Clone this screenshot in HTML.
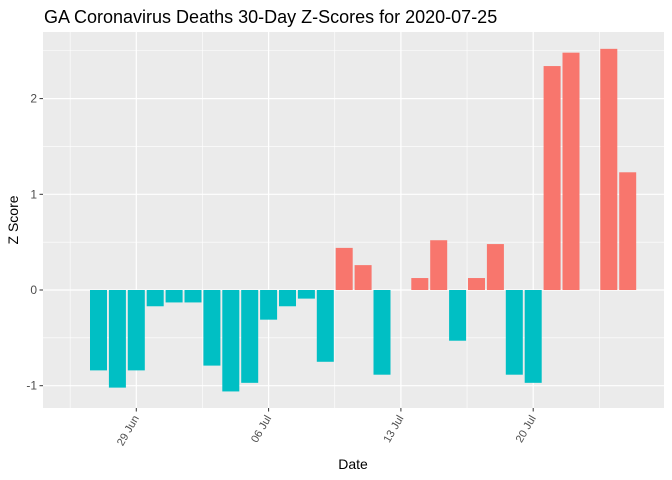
<!DOCTYPE html>
<html><head><meta charset="utf-8"><style>
body{margin:0;background:#fff}
svg{display:block;font-family:"Liberation Sans",Arial,sans-serif}
</style></head><body>
<svg id="chart" width="672" height="480">
<text x="44" y="23" font-size="18" fill="#000">GA Coronavirus Deaths 30-Day Z-Scores for 2020-07-25</text>
<rect x="43" y="32" width="621" height="376" fill="#EBEBEB"/>
<g id="grid"></g>
<g id="bars"></g>
<g id="axes"></g>
<text x="353" y="469" font-size="14" text-anchor="middle" fill="#000">Date</text>
<text transform="translate(18,220) rotate(-90)" font-size="14" text-anchor="middle" fill="#000">Z Score</text>
</svg>
<script>
const dates=["06-27","06-28","06-29","06-30","07-01","07-02","07-03","07-04","07-05","07-06","07-07","07-08","07-09","07-10","07-11","07-12","07-14","07-15","07-16","07-17","07-18","07-19","07-20","07-21","07-22","07-24","07-25"];
const zscores=[-0.84,-1.02,-0.84,-0.17,-0.13,-0.13,-0.79,-1.06,-0.97,-0.31,-0.17,-0.09,-0.75,0.44,0.26,-0.885,0.125,0.52,-0.53,0.125,0.48,-0.885,-0.97,2.34,2.48,2.52,1.23];
const yTicks=[-1,0,1,2];
const xTickDates=["06-29","07-06","07-13","07-20"];
const xTickLabels=["29 Jun","06 Jul","13 Jul","20 Jul"];
const NS="http://www.w3.org/2000/svg";
function dayIndex(s){const [m,d]=s.split("-").map(Number);return (m===6?d-30:d)-(-1);}
function X(s){return 136.3+dayIndex(s)*18.9;}
function Xd(n){return 136.3+n*18.9;}
function Y(v){return 290-v*95.7;}
function mk(tag,attrs,parent){const e=document.createElementNS(NS,tag);for(const k in attrs)e.setAttribute(k,attrs[k]);parent.appendChild(e);return e;}
const grid=document.getElementById('grid'),bars=document.getElementById('bars'),axes=document.getElementById('axes');
for(let i=0;i<yTicks.length;i++){const v=yTicks[i]+0.5;const y=Y(v);if(y>32){const l=mk('line',{x1:43,x2:664,y1:y,y2:y,stroke:'#fff','stroke-width':0.6},grid);}}
{const y=Y(yTicks[0]-0.5);const l=mk('line',{x1:43,x2:664,y1:y,y2:y,stroke:'#fff','stroke-width':0.6},grid);}
for(const v of yTicks){const y=Y(v);
const l=mk('line',{x1:43,x2:664,y1:y,y2:y,stroke:'#fff','stroke-width':1.2},grid);
const t=mk('line',{x1:39.5,x2:43,y1:y,y2:y,stroke:'#333','stroke-width':1},axes);
const tx=mk('text',{x:37,y:y+4,'font-size':12,'text-anchor':'end',fill:'#4D4D4D'},axes);tx.textContent=v;}
for(let i=-1;i<xTickDates.length;i++){const x=Xd(i*7+3.5);if(x>43&&x<664){const l=mk('line',{x1:x,x2:x,y1:32,y2:408,stroke:'#fff','stroke-width':0.6},grid);}}
for(let i=0;i<xTickDates.length;i++){const x=X(xTickDates[i]);
const l=mk('line',{x1:x,x2:x,y1:32,y2:408,stroke:'#fff','stroke-width':1.2},grid);
const t=mk('line',{x1:x,x2:x,y1:408,y2:411.5,stroke:'#333','stroke-width':1},axes);
const tx=mk('text',{transform:`translate(${x+3},${418}) rotate(-60)`,'font-size':11,'text-anchor':'end',fill:'#4D4D4D'},axes);tx.textContent=xTickLabels[i];}
for(let i=0;i<dates.length;i++){const v=zscores[i];const cx=X(dates[i]);const y0=Y(0),y1=Y(v);
const r=mk('rect',{x:cx-8.5,width:17,y:Math.min(y0,y1),height:Math.abs(y1-y0),fill:v>=0?'#F8766D':'#00BFC4'},bars);

}
</script>
</body></html>
